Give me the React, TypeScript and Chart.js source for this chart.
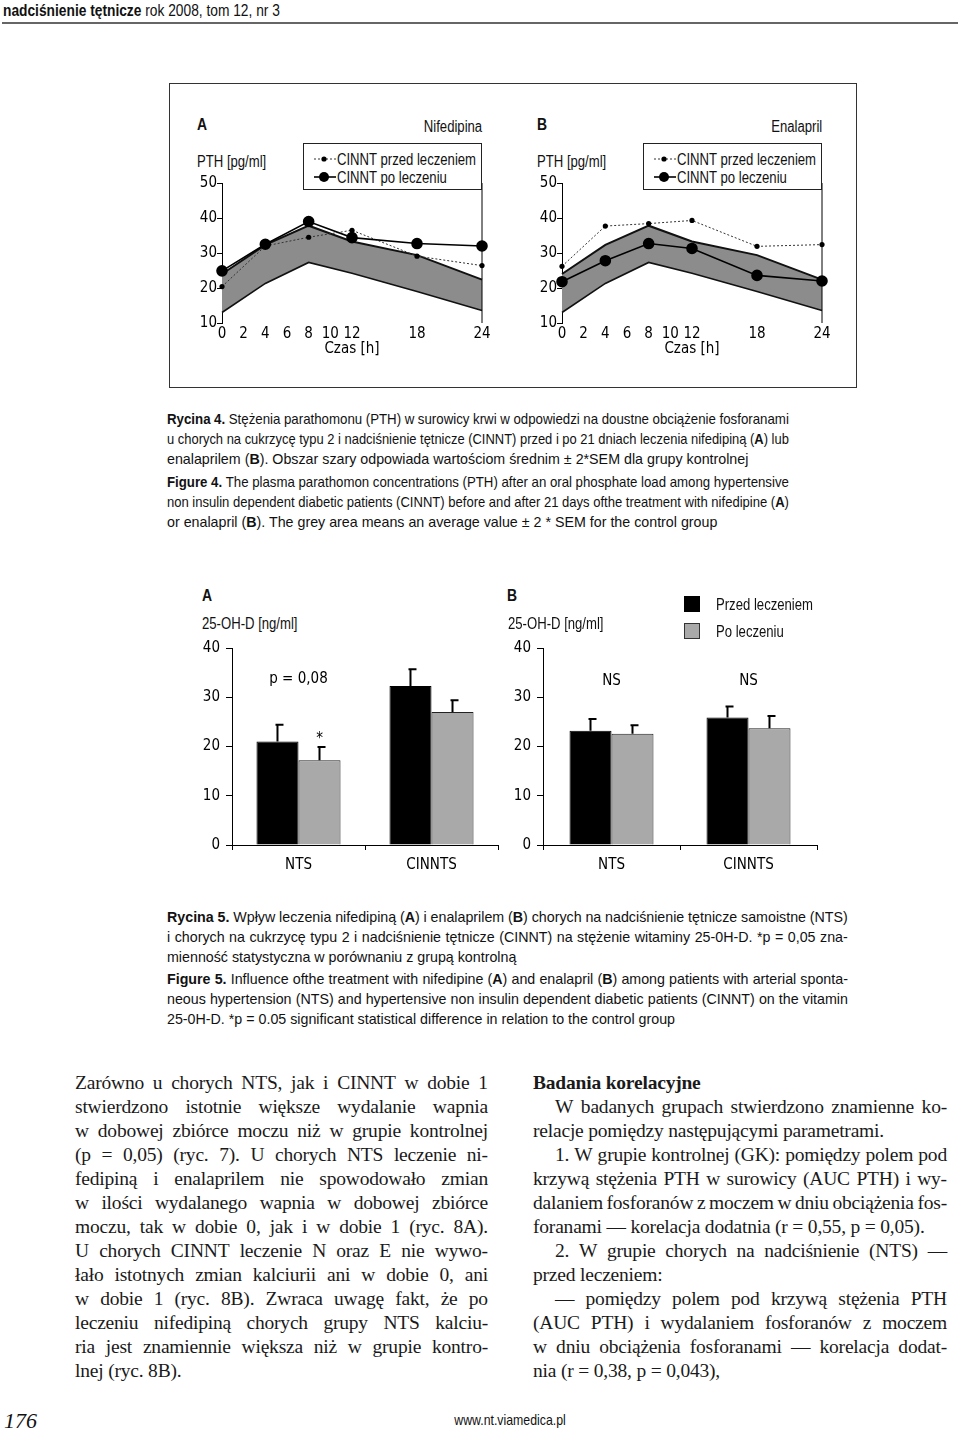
import React, { useEffect, useRef } from 'react';
import { Chart, registerables } from 'chart.js';
Chart.register(...registerables);

const CANVAS_FONT = '"DejaVu Sans Condensed", "DejaVu Sans", sans-serif';
const SANS = '"Liberation Sans", Arial, sans-serif';
const SERIF = '"Liberation Serif", "Times New Roman", serif';
const K = 0.82; // horizontal squeeze giving a narrow (Arial Narrow-like) face
const KCAP = 0.95;

// ---------- Figure 4: PTH [pg/ml] ----------
const HOURS = [0, 4, 8, 12, 18, 24];
const HOUR_TICKS = [0, 2, 4, 6, 8, 10, 12, 18, 24];
const CONTROL_UPPER = [24.0, 32.3, 37.8, 33.3, 29.4, 22.4];
const CONTROL_LOWER = [13.0, 21.3, 27.3, 24.2, 19.0, 13.6];
const NIFEDIPINA_PRZED = [20.4, 32.0, 34.5, 36.5, 29.1, 26.4];
const NIFEDIPINA_PO = [24.9, 32.5, 39.0, 34.4, 32.7, 32.0];
const ENALAPRIL_PRZED = [26.2, 37.7, 38.4, 39.3, 31.9, 32.4];
const ENALAPRIL_PO = [21.8, 27.8, 32.7, 31.3, 23.6, 22.0];

// ---------- Figure 5: 25-OH-D [ng/ml] ----------
const GROUPS = ['NTS', 'CINNTS'];
const NIF_PRZED = [21.0, 32.3];
const NIF_PRZED_ERR = [24.4, 35.7];
const NIF_PO = [17.2, 27.0];
const NIF_PO_ERR = [19.9, 29.4];
const ENA_PRZED = [23.2, 25.9];
const ENA_PRZED_ERR = [25.6, 28.1];
const ENA_PO = [22.6, 23.7];
const ENA_PO_ERR = [24.3, 26.2];
const NIF_NOTES = [
  { text: 'p = 0,08', group: 0, value: 33.6 },
  { text: '*', group: 0, dataset: 1, value: 21.6 },
];
const ENA_NOTES = [
  { text: 'NS', group: 0, value: 33.2 },
  { text: 'NS', group: 1, value: 33.2 },
];

// ---------- Text ----------
type L = [string, boolean, boolean?];
const RYC4: L[] = [
  ['{Rycina 4.} Stężenia parathomonu (PTH) w surowicy krwi w odpowiedzi na doustne obciążenie fosforanami', true],
  ['u chorych na cukrzycę typu 2 i nadciśnienie tętnicze (CINNT) przed i po 21 dniach leczenia nifedipiną ({A}) lub', true],
  ['enalaprilem ({B}). Obszar szary odpowiada wartościom średnim ± 2*SEM dla grupy kontrolnej', false],
];
const FIG4: L[] = [
  ['{Figure 4.} The plasma parathomon concentrations (PTH) after an oral phosphate load among hypertensive', true],
  ['non insulin dependent diabetic patients (CINNT) before and after 21 days ofthe treatment with nifedipine ({A})', true],
  ['or enalapril ({B}). The grey area means an average value ± 2 * SEM for the control group', false],
];
const RYC5: L[] = [
  ['{Rycina 5.} Wpływ leczenia nifedipiną ({A}) i enalaprilem ({B}) chorych na nadciśnienie tętnicze samoistne (NTS)', true],
  ['i chorych na cukrzycę typu 2 i nadciśnienie tętnicze (CINNT) na stężenie witaminy 25-0H-D. *p = 0,05 zna-', true],
  ['mienność statystyczna w porównaniu z grupą kontrolną', false],
];
const FIG5: L[] = [
  ['{Figure 5.} Influence ofthe treatment with nifedipine ({A}) and enalapril ({B}) among patients with arterial sponta-', true],
  ['neous hypertension (NTS) and hypertensive non insulin dependent diabetic patients (CINNT) on the vitamin', true],
  ['25-0H-D. *p = 0.05 significant statistical difference in relation to the control group', false],
];
const LEFT_COL: L[] = [
  ['Zarówno u chorych NTS, jak i CINNT w dobie 1', true],
  ['stwierdzono istotnie większe wydalanie wapnia', true],
  ['w dobowej zbiórce moczu niż w grupie kontrolnej', true],
  ['(p = 0,05) (ryc. 7). U chorych NTS leczenie ni-', true],
  ['fedipiną i enalaprilem nie spowodowało zmian', true],
  ['w ilości wydalanego wapnia w dobowej zbiórce', true],
  ['moczu, tak w dobie 0, jak i w dobie 1 (ryc. 8A).', true],
  ['U chorych CINNT leczenie N oraz E nie wywo-', true],
  ['łało istotnych zmian kalciurii ani w dobie 0, ani', true],
  ['w dobie 1 (ryc. 8B). Zwraca uwagę fakt, że po', true],
  ['leczeniu nifedipiną chorych grupy NTS kalciu-', true],
  ['ria jest znamiennie większa niż w grupie kontro-', true],
  ['lnej (ryc. 8B).', false],
];
const RIGHT_COL: L[] = [
  ['{Badania korelacyjne}', false],
  ['W badanych grupach stwierdzono znamienne ko-', true, true],
  ['relacje pomiędzy następującymi parametrami.', false],
  ['1. W grupie kontrolnej (GK): pomiędzy polem pod', true, true],
  ['krzywą stężenia PTH w surowicy (AUC PTH) i wy-', true],
  ['dalaniem fosforanów z moczem w dniu obciążenia fos-', true],
  ['foranami — korelacja dodatnia (r = 0,55, p = 0,05).', false],
  ['2. W grupie chorych na nadciśnienie (NTS) —', true, true],
  ['przed leczeniem:', false],
  ['— pomiędzy polem pod krzywą stężenia PTH', true, true],
  ['(AUC PTH) i wydalaniem fosforanów z moczem', true],
  ['w dniu obciążenia fosforanami — korelacja dodat-', true],
  ['nia (r = 0,38, p = 0,043),', false],
];

type Seg = { t: string; b: boolean };
function toWords(line: string): Seg[][] {
  const words: Seg[][] = [[]];
  let bold = false;
  for (const ch of line) {
    if (ch === '{') { bold = true; continue; }
    if (ch === '}') { bold = false; continue; }
    if (ch === ' ') { if (words[words.length - 1].length) words.push([]); continue; }
    const w = words[words.length - 1];
    const last = w[w.length - 1];
    if (last && last.b === bold) last.t += ch; else w.push({ t: ch, b: bold });
  }
  return words.filter((w) => w.length);
}
const segs = (wd: Seg[]) => wd.map((s, m) => (s.b ? <b key={m}>{s.t}</b> : <React.Fragment key={m}>{s.t}</React.Fragment>));

let mctx: CanvasRenderingContext2D | null = null;
function measure(text: string, font: string) {
  if (!mctx) mctx = document.createElement('canvas').getContext('2d');
  mctx!.font = font;
  return mctx!.measureText(text).width;
}

function Lines(p: { x: number; y: number; width: number; lh: number; size: number; font: string; lines: L[]; indent?: number; ls?: number; color?: string; k?: number; minGap?: number }) {
  const kMax = p.k || 1;
  return (
    <>
      {p.lines.map((ln, i) => {
        const [text, just, ind] = ln;
        const words = toWords(text);
        const off = ind ? p.indent || 0 : 0;
        const w = p.width - off;
        let k = kMax;
        if (just && p.minGap) {
          let ww = 0;
          words.forEach((wd) => wd.forEach((s) => { ww += measure(s.t, `${s.b ? 700 : 400} ${p.size}px ${p.font}`); }));
          k = Math.min(kMax, (w - (words.length - 1) * p.minGap) / ww);
        }
        const outer: React.CSSProperties = { position: 'absolute', left: p.x + off, top: p.y + i * p.lh - p.lh / 2, width: w, height: p.lh };
        const inner: React.CSSProperties = {
          width: w / k, height: p.lh, transform: k !== 1 ? `scaleX(${k})` : undefined, transformOrigin: 'left top',
          lineHeight: p.lh + 'px', fontSize: p.size, fontFamily: p.font, whiteSpace: 'nowrap', letterSpacing: p.ls || 0, color: p.color || '#111',
        };
        return (
          <div key={i} style={outer}>
            {just ? (
              <div style={{ ...inner, display: 'flex', justifyContent: 'space-between' }}>
                {words.map((wd, kk) => <span key={kk}>{segs(wd)}</span>)}
              </div>
            ) : (
              <div style={inner}>
                {words.map((wd, kk) => <React.Fragment key={kk}>{kk > 0 ? ' ' : ''}{segs(wd)}</React.Fragment>)}
              </div>
            )}
          </div>
        );
      })}
    </>
  );
}

function Txt(p: { x: number; cy: number; size?: number; bold?: boolean; italic?: boolean; align?: 'left' | 'right' | 'center'; serif?: boolean; k?: number; children: React.ReactNode }) {
  const size = p.size || 16;
  const lh = Math.round(size * 1.3);
  const k = p.serif ? 1 : p.k || K;
  const align = p.align || 'left';
  const pos: React.CSSProperties = align === 'right' ? { right: 960 - p.x } : { left: p.x };
  return (
    <div style={{
      position: 'absolute', ...pos, top: p.cy - lh / 2, lineHeight: lh + 'px', fontSize: size, fontFamily: p.serif ? SERIF : SANS,
      fontWeight: p.bold ? 700 : 400, fontStyle: p.italic ? 'italic' : 'normal', whiteSpace: 'pre', color: '#111',
      transform: (align === 'center' ? 'translateX(-50%) ' : '') + `scaleX(${k})`,
      transformOrigin: align === 'right' ? 'right center' : align === 'center' ? 'center center' : 'left center',
    }}>{p.children}</div>
  );
}

const rightEdge = {
  id: 'rightEdge',
  afterDatasetsDraw(chart: any) {
    const { ctx, chartArea: a } = chart;
    ctx.save();
    ctx.strokeStyle = '#000';
    ctx.lineWidth = 1;
    ctx.beginPath();
    ctx.moveTo(a.right, a.top);
    ctx.lineTo(a.right, a.bottom);
    ctx.stroke();
    ctx.restore();
  },
};

const tickFont = { family: CANVAS_FONT, size: 15 };

function PthChart(p: { left: number; przed: number[]; po: number[] }) {
  const ref = useRef<HTMLCanvasElement>(null);
  useEffect(() => {
    const pts = (arr: number[]) => HOURS.map((x, i) => ({ x, y: arr[i] }));
    const chart = new Chart(ref.current!, {
      type: 'line',
      data: {
        datasets: [
          { label: 'CINNT po leczeniu', data: pts(p.po), borderColor: '#000', borderWidth: 1.6, pointRadius: 5, pointBackgroundColor: '#000', pointBorderColor: '#000', fill: false, clip: false } as any,
          { label: 'CINNT przed leczeniem', data: pts(p.przed), borderColor: '#333', borderWidth: 1, borderDash: [2, 2], pointRadius: 2.6, pointBackgroundColor: '#000', pointBorderColor: '#000', pointBorderWidth: 0, fill: false, clip: false } as any,
          { label: 'upper', data: pts(CONTROL_UPPER), borderColor: '#111', borderWidth: 2, pointRadius: 0, fill: '+1', backgroundColor: '#8c8c8c', clip: false } as any,
          { label: 'lower', data: pts(CONTROL_LOWER), borderColor: '#111', borderWidth: 1.6, pointRadius: 0, fill: false, clip: false } as any,
        ],
      },
      options: {
        animation: false,
        responsive: false,
        maintainAspectRatio: false,
        layout: { padding: { top: 18, right: 18, left: 0, bottom: 0 } },
        plugins: { legend: { display: false }, tooltip: { enabled: false }, filler: { drawTime: 'beforeDatasetsDraw' } } as any,
        scales: {
          x: {
            type: 'linear', min: 0, max: 24,
            afterBuildTicks: (s: any) => { s.ticks = HOUR_TICKS.map((v) => ({ value: v })); },
            afterFit: (s: any) => { s.height = 42; },
            grid: { display: false, drawTicks: false },
            border: { display: false },
            ticks: { padding: 2, color: '#000', font: tickFont, autoSkip: false, maxRotation: 0 },
            title: { display: true, text: 'Czas [h]', color: '#000', font: tickFont, padding: { top: 0, bottom: 7 } },
          },
          y: {
            min: 10, max: 50,
            ticks: { stepSize: 10, padding: 0, color: '#000', font: tickFont },
            grid: { drawOnChartArea: false, tickLength: 5, color: '#000' },
            border: { color: '#000', width: 1 },
            afterFit: (s: any) => { s.width = 42; },
          },
        },
      } as any,
      plugins: [rightEdge],
    });
    return () => chart.destroy();
  }, []);
  return <canvas ref={ref} width={320} height={200} style={{ position: 'absolute', left: p.left, top: 165, width: 320, height: 200 }} />;
}

const barExtras = {
  id: 'barExtras',
  afterDatasetsDraw(chart: any, _a: any, opts: any) {
    const { ctx } = chart;
    const ys = chart.scales.y;
    ctx.save();
    chart.data.datasets.forEach((ds: any, di: number) => {
      const meta = chart.getDatasetMeta(di);
      (ds.errTop || []).forEach((v: number, i: number) => {
        const bar = meta.data[i];
        const top = ys.getPixelForValue(v);
        ctx.strokeStyle = '#000';
        ctx.lineWidth = 2;
        ctx.beginPath();
        ctx.moveTo(bar.x, bar.y);
        ctx.lineTo(bar.x, top);
        ctx.moveTo(bar.x - 2, top);
        ctx.lineTo(bar.x + 6, top);
        ctx.stroke();
      });
    });
    ctx.fillStyle = '#000';
    ctx.font = `15px ${CANVAS_FONT}`;
    ctx.textAlign = 'center';
    ctx.textBaseline = 'middle';
    (opts.notes || []).forEach((n: any) => {
      const x = n.dataset == null ? chart.scales.x.getPixelForValue(n.group) : chart.getDatasetMeta(n.dataset).data[n.group].x;
      ctx.fillText(n.text, x, ys.getPixelForValue(n.value));
    });
    ctx.restore();
  },
};

function VitDChart(p: { left: number; width: number; przed: number[]; przedErr: number[]; po: number[]; poErr: number[]; catPct: number; notes: any[] }) {
  const ref = useRef<HTMLCanvasElement>(null);
  useEffect(() => {
    const chart = new Chart(ref.current!, {
      type: 'bar',
      data: {
        labels: GROUPS,
        datasets: [
          { label: 'Przed leczeniem', data: p.przed, errTop: p.przedErr, backgroundColor: '#000', borderColor: '#000', borderWidth: 1, categoryPercentage: p.catPct, barPercentage: 1 } as any,
          { label: 'Po leczeniu', data: p.po, errTop: p.poErr, backgroundColor: '#a9a9a9', borderColor: '#222', borderWidth: 1, categoryPercentage: p.catPct, barPercentage: 1 } as any,
        ],
      },
      options: {
        animation: false,
        responsive: false,
        maintainAspectRatio: false,
        layout: { padding: { top: 18, right: 14, left: 0, bottom: 0 } },
        plugins: { legend: { display: false }, tooltip: { enabled: false }, barExtras: { notes: p.notes } } as any,
        scales: {
          x: {
            grid: { display: true, drawOnChartArea: false, tickLength: 5, color: '#000', offset: true },
            border: { color: '#000', width: 1 },
            ticks: { padding: 6, color: '#000', font: tickFont },
            afterFit: (s: any) => { s.height = 35; },
          },
          y: {
            min: 0, max: 40,
            ticks: { stepSize: 10, padding: 6, color: '#000', font: tickFont },
            grid: { drawOnChartArea: false, tickLength: 6, color: '#000' },
            border: { color: '#000', width: 1 },
            afterFit: (s: any) => { s.width = 42; },
          },
        },
      } as any,
      plugins: [barExtras],
    });
    return () => chart.destroy();
  }, []);
  return <canvas ref={ref} width={p.width} height={250} style={{ position: 'absolute', left: p.left, top: 630, width: p.width, height: 250 }} />;
}

function LegendSample({ x, cy, dotted }: { x: number; cy: number; dotted?: boolean }) {
  return (
    <svg style={{ position: 'absolute', left: x, top: cy - 7 }} width={22} height={14}>
      <line x1={0} y1={7} x2={22} y2={7} stroke={dotted ? '#333' : '#000'} strokeWidth={dotted ? 1 : 1.6} strokeDasharray={dotted ? '2 2' : undefined} />
      <circle cx={10} cy={7} r={dotted ? 2.6 : 5} fill="#000" />
    </svg>
  );
}

function Fig4Panel({ dx, letter, drug, przed, po }: { dx: number; letter: string; drug: string; przed: number[]; po: number[] }) {
  return (
    <>
      <Txt x={197 + dx} cy={125} size={17} bold>{letter}</Txt>
      <Txt x={482 + dx} cy={126.5} align="right">{drug}</Txt>
      <Txt x={197 + dx} cy={161.5}>PTH [pg/ml]</Txt>
      <PthChart left={180 + dx} przed={przed} po={po} />
      <div style={{ position: 'absolute', left: 303 + dx, top: 143, width: 179, height: 47, border: '1px solid #222', boxSizing: 'border-box', background: '#fff' }} />
      <LegendSample x={314 + dx} cy={159.3} dotted />
      <Txt x={337 + dx} cy={159.3}>CINNT przed leczeniem</Txt>
      <LegendSample x={314 + dx} cy={177.3} />
      <Txt x={337 + dx} cy={177.3}>CINNT po leczeniu</Txt>
    </>
  );
}

export default function App() {
  return (
    <div style={{ position: 'absolute', left: 0, top: 0, width: 960, height: 1431, overflow: 'hidden', background: '#fff' }}>
      <Txt x={3} cy={10} size={16} k={0.86}><b>nadciśnienie tętnicze</b> rok 2008, tom 12, nr 3</Txt>
      <div style={{ position: 'absolute', left: 2, top: 22, width: 956, height: 1.5, background: '#666' }} />

      <div style={{ position: 'absolute', left: 169, top: 83, width: 688, height: 305, border: '1.5px solid #333', boxSizing: 'border-box' }} />
      <Fig4Panel dx={0} letter="A" drug="Nifedipina" przed={NIFEDIPINA_PRZED} po={NIFEDIPINA_PO} />
      <Fig4Panel dx={340} letter="B" drug="Enalapril" przed={ENALAPRIL_PRZED} po={ENALAPRIL_PO} />

      <Lines x={167} y={419} width={622} lh={20} size={15} font={SANS} k={KCAP} minGap={3.6} lines={RYC4} />
      <Lines x={167} y={481.5} width={622} lh={20} size={15} font={SANS} k={KCAP} minGap={3.6} lines={FIG4} />

      <Txt x={202} cy={596} size={17} bold>A</Txt>
      <Txt x={202} cy={623}>25-OH-D [ng/ml]</Txt>
      <VitDChart left={190} width={322} przed={NIF_PRZED} przedErr={NIF_PRZED_ERR} po={NIF_PO} poErr={NIF_PO_ERR} catPct={0.632} notes={NIF_NOTES} />
      <Txt x={507} cy={596} size={17} bold>B</Txt>
      <Txt x={508} cy={623}>25-OH-D [ng/ml]</Txt>
      <VitDChart left={501} width={330} przed={ENA_PRZED} przedErr={ENA_PRZED_ERR} po={ENA_PO} poErr={ENA_PO_ERR} catPct={0.613} notes={ENA_NOTES} />
      <div style={{ position: 'absolute', left: 684, top: 596, width: 16, height: 16, background: '#000' }} />
      <Txt x={716} cy={604}>Przed leczeniem</Txt>
      <div style={{ position: 'absolute', left: 684, top: 623, width: 16, height: 16, background: '#a9a9a9', border: '1px solid #333', boxSizing: 'border-box' }} />
      <Txt x={716} cy={631}>Po leczeniu</Txt>

      <Lines x={167} y={917} width={681} lh={20} size={15} font={SANS} k={KCAP} minGap={3.6} lines={RYC5} />
      <Lines x={167} y={979} width={681} lh={20} size={15} font={SANS} k={KCAP} minGap={3.6} lines={FIG5} />

      <Lines x={75} y={1083.3} width={413} lh={24} size={19.5} font={SERIF} lines={LEFT_COL} ls={-0.2} color="#1a1a1a" />
      <Lines x={533} y={1083.3} width={414} lh={24} size={19.5} font={SERIF} lines={RIGHT_COL} indent={22} ls={-0.2} color="#1a1a1a" />

      <Txt x={4} cy={1420} size={22} italic serif>176</Txt>
      <Txt x={510} cy={1420} size={15} align="center">www.nt.viamedica.pl</Txt>
    </div>
  );
}
